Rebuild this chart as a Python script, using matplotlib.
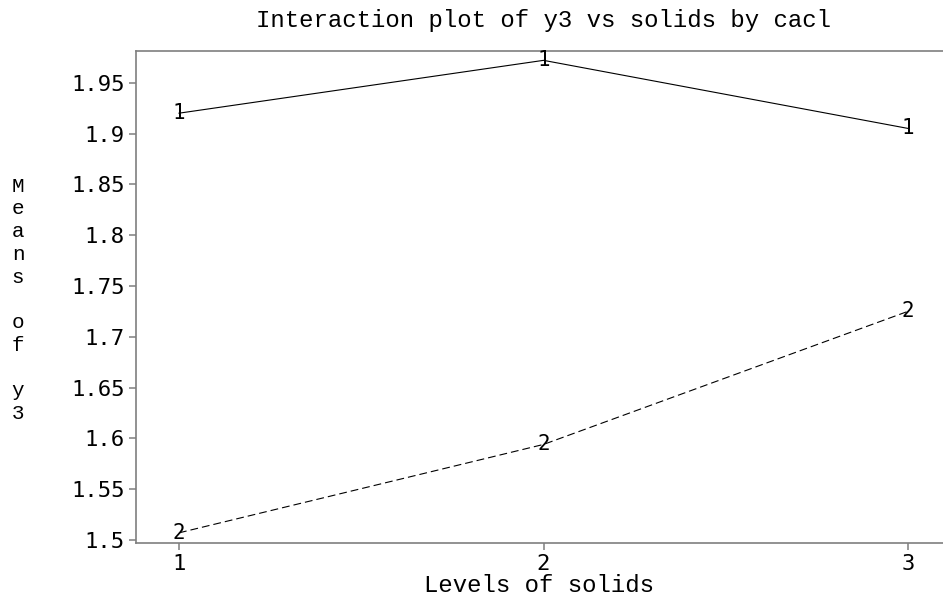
import matplotlib
matplotlib.use('Agg')
import matplotlib.pyplot as plt

# factor levels and cell means
levels = [1, 2, 3]
means_cacl1 = [1.920, 1.972, 1.905]
means_cacl2 = [1.507, 1.594, 1.725]
groups = ['1', '2']
yticks = [1.5, 1.55, 1.6, 1.65, 1.7, 1.75, 1.8, 1.85, 1.9, 1.95]
ytick_labels = ['1.5', '1.55', '1.6', '1.65', '1.7', '1.75', '1.8', '1.85', '1.9', '1.95']

W, H = 943, 598
fig = plt.figure(figsize=(W / 100, H / 100), dpi=100)
ax = fig.add_axes([136 / W, 1 - 543 / H, 1 - 136 / W, (543 - 51) / H])

grey = '#7f7f7f'
mono = 'Liberation Mono'
digits = 'DejaVu Sans Mono'

ax.plot(levels, means_cacl1, color='black', lw=0.8)
ax.plot(levels, means_cacl2, color='black', lw=0.8, linestyle=(0, (7, 3.6)))
for series, g in zip([means_cacl1, means_cacl2], groups):
    for x, y in zip(levels, series):
        ax.text(x, y, g, ha='center', va='center', fontsize=15,
                family=digits, color='black')

ax.set_xlim(0.882, 3.096)
ax.set_ylim(1.497, 1.9812)
ax.set_xticks(levels)
ax.set_xticklabels([str(v) for v in levels], family=digits, fontsize=16)
ax.set_yticks(yticks)
ax.set_yticklabels(ytick_labels, family=digits, fontsize=16)
ax.tick_params(direction='out', length=5, width=1.1, color=grey, pad=3)

for side in ['left', 'bottom', 'top']:
    ax.spines[side].set_color(grey)
    ax.spines[side].set_linewidth(1.2)
ax.spines['right'].set_visible(False)

ax.set_xlabel('Levels of solids', family=mono, fontsize=17.3, labelpad=0)
fig.text(543 / W, 1 - 20 / H, 'Interaction plot of y3 vs solids by cacl',
         ha='center', va='center', family=mono, fontsize=17.3)
fig.text(18 / W, 1 - 300 / H, '\n'.join('Means of y3'), ha='center', va='center',
         family=mono, fontsize=15, linespacing=1.25)

fig.savefig('out.png', dpi=100)
